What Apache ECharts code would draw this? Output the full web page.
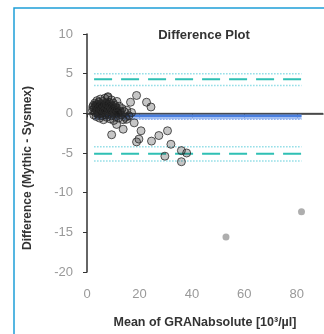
<!DOCTYPE html>
<html>
<head>
<meta charset="utf-8">
<script src="https://cdn.jsdelivr.net/npm/echarts@6/dist/echarts.min.js"></script>
<style>
  html, body { margin: 0; padding: 0; background: #fff; }
  #chart { width: 324px; height: 334px; }
</style>
</head>
<body>
<div id="chart"></div>
<script>
// mean of the two methods (x) and their difference (y)
var meanX = [2.1, 2.4, 2.6, 2.8, 3.0, 3.1, 3.3, 3.5, 3.6, 3.8, 3.9, 4.1, 4.2, 4.4, 4.5, 4.7, 4.8, 5.0, 5.1, 5.3,
  5.4, 5.6, 5.7, 5.9, 6.0, 6.2, 6.3, 6.5, 6.6, 6.8, 6.9, 7.1, 7.2, 7.4, 7.5, 7.7, 7.8, 8.0, 8.1, 8.3,
  8.4, 8.6, 8.8, 8.9, 9.1, 9.3, 9.4, 9.6, 9.8, 10.0, 10.2, 10.4, 10.6, 10.9, 11.1, 11.4, 11.7, 12.0, 12.3, 12.7,
  13.0, 13.4, 13.8, 14.2, 14.7, 15.2, 16.0, 17.0,
  2.2, 2.9, 3.4, 3.7, 4.0, 4.3, 4.6, 4.9, 5.2, 5.5, 5.8, 6.1, 6.4, 6.7, 7.0, 7.3, 7.6, 7.9, 8.2, 8.5,
  8.7, 9.0, 9.2, 9.5, 9.9, 10.3, 10.7, 11.2, 11.8, 12.5,
  7.9, 18.9, 16.6, 22.7, 24.4, 11.3, 15.1, 18.0, 11.3, 13.8, 9.4, 20.6, 19.8, 18.9, 24.6, 27.4, 30.7, 32.0,
  29.7, 36.0, 38.0, 36.0];
var diffY = [0.4, 1.0, -0.2, 0.7, 1.3, 0.1, 0.9, -0.4, 0.5, 1.6, 0.2, 1.1, -0.1, 0.6, 1.4, 0.3, -0.6, 0.9, 1.8, 0.0,
  0.5, 1.2, -0.3, 0.8, 1.5, 0.2, -0.8, 1.0, 0.4, 1.9, -0.2, 0.7, 1.3, 0.1, -0.5, 1.0, 0.5, 2.1, -0.1, 0.8,
  1.4, 0.3, -0.7, 1.1, 0.6, 1.7, -0.3, 0.9, 0.2, 1.3, -0.9, 0.5, 1.0, -0.4, 0.7, 1.5, 0.1, -0.6, 0.9, 0.3,
  -0.2, 0.6, -0.8, 0.2, -0.5, 0.4, -0.3, 0.1,
  0.8, 0.3, 1.1, 0.6, 0.9, 0.4, 1.0, 0.7, 0.2, 0.9, 0.5, 1.1, 0.6, 0.3, 1.0, 0.5, 0.8, 1.2, 0.4, 0.6,
  1.0, 0.3, 0.8, 0.5, 0.7, 0.4, 0.2, 0.5, 0.3, 0.1,
  2.0, 2.25, 1.4, 1.4, 0.8, -0.1, -0.75, -1.2, -1.4, -2.0, -2.7, -2.2, -3.25, -3.6, -3.5, -2.8, -2.2, -3.9,
  -5.4, -4.7, -5.0, -6.1];
// the two far points drawn as grey dots
var outlierX = [53, 81.8];
var outlierY = [-15.6, -12.4];

var lineRange = [2.7, 81.8];        // x extent of the reference lines
var upperLoA = 4.3, upperCI = [3.5, 5.0];
var lowerLoA = -5.1, lowerCI = [-6.0, -4.2];
var bias = -0.35, biasCI = [-0.75, 0];

var yTicks = [-20, -15, -10, -5, 0, 5, 10];

var font = "'Liberation Sans', Arial, sans-serif";

function hline(v, color, type, width) {
  return {
    type: "line", symbol: "none", silent: true,
    data: [[lineRange[0], v], [lineRange[1], v]],
    lineStyle: { color: color, type: type, width: width },
    z: 2
  };
}

var pts = meanX.map(function(x, i) { return [x, diffY[i]]; });
var outs = outlierX.map(function(x, i) { return [x, outlierY[i]]; });

var chart = echarts.init(document.getElementById("chart"));
chart.setOption({
  animation: false,
  textStyle: { fontFamily: font },
  title: {
    text: "Difference Plot",
    left: 199, top: 24, textAlign: "center",
    textStyle: { fontSize: 13, fontWeight: "bold", color: "#333", fontFamily: font }
  },
  graphic: [
    {
      type: "rect", silent: true,
      shape: { x: 14, y: 8, width: 330, height: 340 },
      style: { fill: "none", stroke: "#1e9fd8", lineWidth: 1.5 }
    },
    {
      type: "text", silent: true,
      x: 28, y: 168, rotation: Math.PI / 2,
      style: {
        text: "Difference (Mythic - Sysmex)",
        align: "center", verticalAlign: "middle",
        font: "bold 12px " + font, fill: "#333"
      }
    }
  ],
  grid: { left: 87, top: 34, width: 236, height: 240 },
  xAxis: {
    type: "value", min: 0, max: 90, interval: 20,
    name: "Mean of GRANabsolute [10³/µl]",
    nameLocation: "middle", nameGap: 44,
    nameTextStyle: { fontSize: 12.5, fontWeight: "bold", color: "#333" },
    axisLine: { lineStyle: { color: "#333", width: 1.5 } },
    axisTick: { show: true, length: 4, lineStyle: { color: "#333" } },
    axisLabel: { color: "#999", fontSize: 13, margin: 16, showMaxLabel: false },
    splitLine: { show: false }
  },
  yAxis: {
    type: "value", min: yTicks[0], max: yTicks[yTicks.length - 1], interval: 5,
    axisLine: { show: true, onZero: false, lineStyle: { color: "#333", width: 1.5 } },
    axisTick: { show: true, length: 4, lineStyle: { color: "#333" } },
    axisLabel: { color: "#999", fontSize: 13, margin: 14 },
    splitLine: { show: false }
  },
  series: [
    {
      type: "line", symbol: "none", silent: true,
      data: [[0, 0], [90, 0]],
      lineStyle: { color: "#444", width: 1 }, z: 1
    },
    {
      type: "line", symbol: "none", silent: true,
      data: [[lineRange[0], bias], [lineRange[1], bias]],
      lineStyle: { color: "#4a7fe0", width: 2 },
      markArea: {
        silent: true,
        itemStyle: { color: "rgba(90,140,232,0.55)" },
        data: [[{ coord: [lineRange[0], biasCI[1]] }, { coord: [lineRange[1], biasCI[0]] }]]
      },
      z: 2
    },
    hline(biasCI[0], "#8fb0f0", "dotted", 1.5),
    hline(upperCI[1], "#8fdde6", "dotted", 1.5),
    hline(upperLoA, "#2fc0b4", [18, 9], 2),
    hline(upperCI[0], "#8fdde6", "dotted", 1.5),
    hline(lowerCI[1], "#8fdde6", "dotted", 1.5),
    hline(lowerLoA, "#2fc0b4", [18, 9], 2),
    hline(lowerCI[0], "#8fdde6", "dotted", 1.5),
    {
      type: "scatter", data: pts, symbol: "circle", symbolSize: 8,
      itemStyle: { color: "rgba(20,20,20,0.3)", borderColor: "#2a2a2a", borderWidth: 1 },
      z: 5
    },
    {
      type: "scatter", data: outs, symbol: "circle", symbolSize: 7,
      itemStyle: { color: "#9a9a9a" },
      z: 5
    }
  ]
});
</script>
</body>
</html>
